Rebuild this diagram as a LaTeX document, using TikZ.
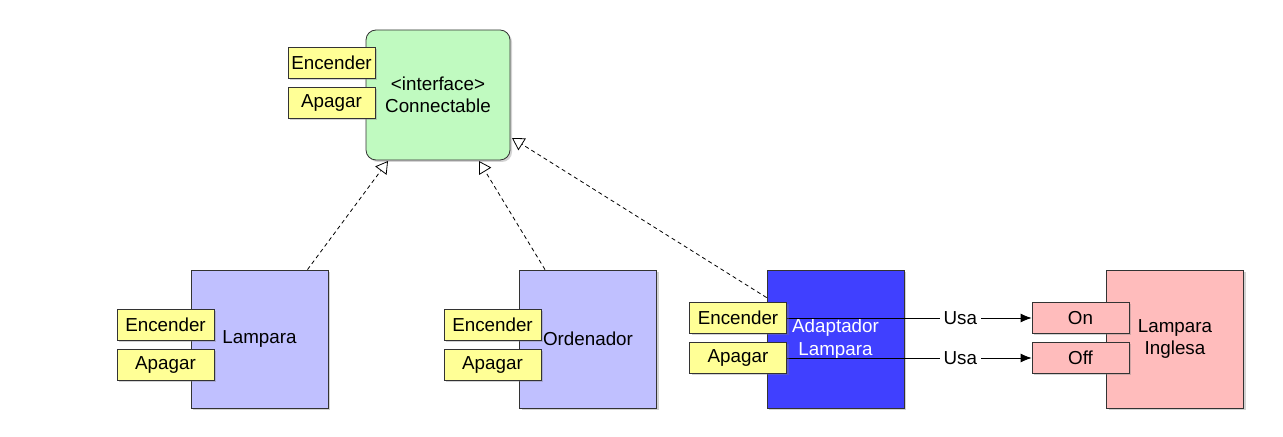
\documentclass[tikz,border=0pt]{standalone}
\usepackage{fontspec}
\setmainfont{Liberation Sans}
\usepackage{tikz}
\usetikzlibrary{arrows.meta,shadows,positioning}
\definecolor{ifgreen}{RGB}{192,250,192}
\definecolor{clslav}{RGB}{192,192,255}
\definecolor{adblue}{RGB}{64,64,255}
\definecolor{ukpink}{RGB}{255,188,188}
\definecolor{tagyel}{RGB}{255,255,150}
\tikzset{>=stealth}
\tikzset{
  shade/.style={drop shadow={shadow xshift=1pt,shadow yshift=-1pt,opacity=0.35}},
  clsbox/.style={draw=black!80,shade,inner sep=0pt,minimum width=68.5pt,minimum height=69pt,align=center},
  tagbox/.style={draw=black!80,fill=tagyel,shade,inner sep=0pt,minimum width=48.5pt,minimum height=15.5pt},
  realiza/.style={densely dashed,dash pattern=on 2pt off 1.6pt,-{Triangle[open,length=6pt,width=7pt]}},
  usa/.style={-{Latex[length=5.5pt,width=4.5pt]}}
}

\begin{document}
\begin{tikzpicture}[x=0.5pt,y=-0.5pt,font=\fontsize{9.4}{11.2}\selectfont]
\useasboundingbox (0,0) rectangle (1283,437);

%Interfaz
\node[clsbox,fill=ifgreen,rounded corners=5pt,minimum width=72pt,minimum height=65pt] (con) at (438,95) {<interface>\\Connectable};
\node[tagbox,minimum width=43.5pt] (conE) at (331.5,62.5) {Encender};
\node[tagbox,minimum width=43.5pt] (conA) at (331.5,103) {Apagar};

%Clases
\node[clsbox,fill=clslav] (lam) at (259.5,339) {Lampara};
\node[tagbox] (lamE) at (165.5,324.5) {Encender};
\node[tagbox] (lamA) at (165.5,365) {Apagar};

\node[clsbox,fill=clslav] (ord) at (588,339) {Ordenador};
\node[tagbox] (ordE) at (492.5,324.5) {Encender};
\node[tagbox] (ordA) at (492.5,365) {Apagar};

\node[clsbox,fill=adblue,text=white] (ada) at (835.5,339) {Adaptador\\Lampara};
\node[clsbox,fill=ukpink] (ing) at (1175,339) {Lampara\\Inglesa};
\node[tagbox,fill=ukpink] (ingOn) at (1080.5,318) {On};
\node[tagbox,fill=ukpink] (ingOff) at (1080.5,358) {Off};

%Usa
\draw[usa] (785.5,318) -- node[pos=0.71,fill=white,inner sep=2pt] {Usa} (ingOn.west);
\draw[usa] (785.5,358) -- node[pos=0.71,fill=white,inner sep=2pt] {Usa} (ingOff.west);
\node[tagbox] (adaE) at (738,318) {Encender};
\node[tagbox] (adaA) at (738,358) {Apagar};

%Realizaciones
\coordinate (tL) at (388,161);
\coordinate (tO) at (479,161);
\coordinate (tA) at (512,138);
\draw[realiza] (lam.north)++(48,0) -- (tL);
\draw[realiza] (ord.north)++(-43,0) -- (tO);
\draw[realiza] ([yshift=-14pt]ada.north west) -- (tA);
\end{tikzpicture}
\end{document}
